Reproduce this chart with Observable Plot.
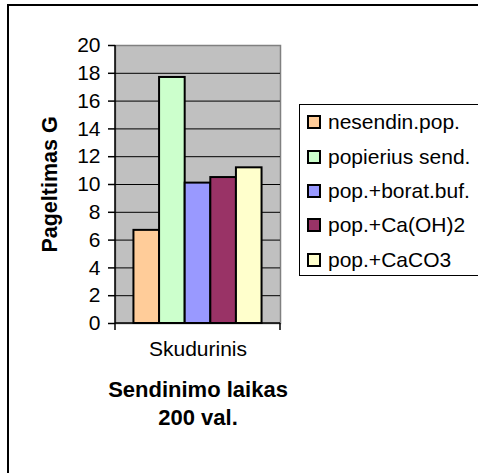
<!DOCTYPE html>
<html>
<head>
<meta charset="utf-8">
<script src="https://cdn.jsdelivr.net/npm/d3@7"></script>
<script src="https://cdn.jsdelivr.net/npm/@observablehq/plot@0.6"></script>
<style>
  html, body { margin: 0; padding: 0; background: #fff; overflow: hidden; }
  #wrap { position: relative; width: 478px; height: 473px; overflow: hidden;
          font-family: "Liberation Sans", Arial, sans-serif; }
  #border { position: absolute; left: 7px; top: 4px; width: 600px; height: 600px;
            border: 2px solid #000; box-sizing: border-box; }
  #chart { position: absolute; left: 0; top: 0; }
  #legend { position: absolute; left: 299px; top: 104px; width: 190px; height: 172px;
            border: 1px solid #000; background: #fff; box-sizing: border-box; }
  .item { height: 34.4px; display: flex; align-items: center; font-size: 21px; color: #000;
          white-space: nowrap; }
  .sw { width: 10px; height: 10px; border: 2px solid #000; margin-left: 7px; margin-right: 7px;
        flex: none; }
</style>
</head>
<body>
<div id="wrap">
  <div id="border"></div>
  <div id="chart"></div>
  <div id="legend"></div>
</div>
<script>
// Yellowing of rag paper after 200 h of ageing, by treatment
const category = "Skudurinis";
const series = ["nesendin.pop.", "popierius send.", "pop.+borat.buf.", "pop.+Ca(OH)2", "pop.+CaCO3"];
const values = [6.7, 17.7, 10.1, 10.5, 11.2];
const colors = ["#FFCC99", "#CCFFCC", "#9999FF", "#993366", "#FFFFCC"];
const yTicks = [0, 2, 4, 6, 8, 10, 12, 14, 16, 18, 20];
const yTitle = "Pageltimas G";
const xTitle = ["Sendinimo laikas", "200 val."];

const data = series.map((s, i) => ({series: s, value: values[i], color: colors[i]}));
const font = "'Liberation Sans', Arial, sans-serif";

// Axis lines plus the category boundary ticks under the x axis
function axisLines(...args) {
  const d = args.find(a => a && a.marginLeft !== undefined);
  const x0 = d.marginLeft, x1 = d.width - d.marginRight;
  const y0 = d.marginTop, y1 = d.height - d.marginBottom;
  const g = d3.create("svg:g").attr("stroke", "#000").attr("stroke-width", 1.5);
  g.append("line").attr("x1", x0).attr("x2", x0).attr("y1", y0).attr("y2", y1);
  g.append("line").attr("x1", x0).attr("x2", x1).attr("y1", y1).attr("y2", y1);
  for (const x of [x0, x1]) {
    g.append("line").attr("x1", x).attr("x2", x).attr("y1", y1).attr("y2", y1 + 7);
  }
  return g.node();
}

const plot = Plot.plot({
  width: 478,
  height: 473,
  marginLeft: 115,
  marginRight: 198,
  marginTop: 45,
  marginBottom: 150,
  style: {fontFamily: font, background: "transparent"},
  x: {domain: series, paddingInner: 0, paddingOuter: 0.72, round: false, axis: null},
  y: {domain: [0, 20], axis: null},
  marks: [
    Plot.frame({fill: "#C0C0C0", stroke: "#808080", strokeWidth: 1.5}),
    Plot.ruleY(yTicks.filter(t => t > 0 && t < 20), {stroke: "black", strokeWidth: 1}),
    Plot.barY(data, {x: "series", y: "value", fill: d => d.color, stroke: "black", strokeWidth: 2, inset: 0}),
    Plot.axisY({ticks: yTicks, tickSize: 7, tickPadding: 8, fontSize: 21, label: null, stroke: "black", strokeWidth: 1.5}),
    axisLines,
    Plot.text([yTitle], {frameAnchor: "left", dx: -65, rotate: -90, textAnchor: "middle",
      fontSize: 21.5, fontWeight: "bold", fill: "black"}),
    Plot.text([category], {frameAnchor: "bottom", dy: 32, textAnchor: "middle", fontSize: 21, fill: "black"}),
    Plot.text([xTitle[0]], {frameAnchor: "bottom", dy: 73, textAnchor: "middle", fontSize: 22, fontWeight: "bold", fill: "black"}),
    Plot.text([xTitle[1]], {frameAnchor: "bottom", dy: 101, textAnchor: "middle", fontSize: 22, fontWeight: "bold", fill: "black"})
  ]
});
document.getElementById("chart").appendChild(plot);

const legend = d3.select("#legend");
series.forEach((s, i) => {
  const item = legend.append("div").attr("class", "item");
  item.append("div").attr("class", "sw").style("background", colors[i]);
  item.append("span").text(s);
});
</script>
</body>
</html>
